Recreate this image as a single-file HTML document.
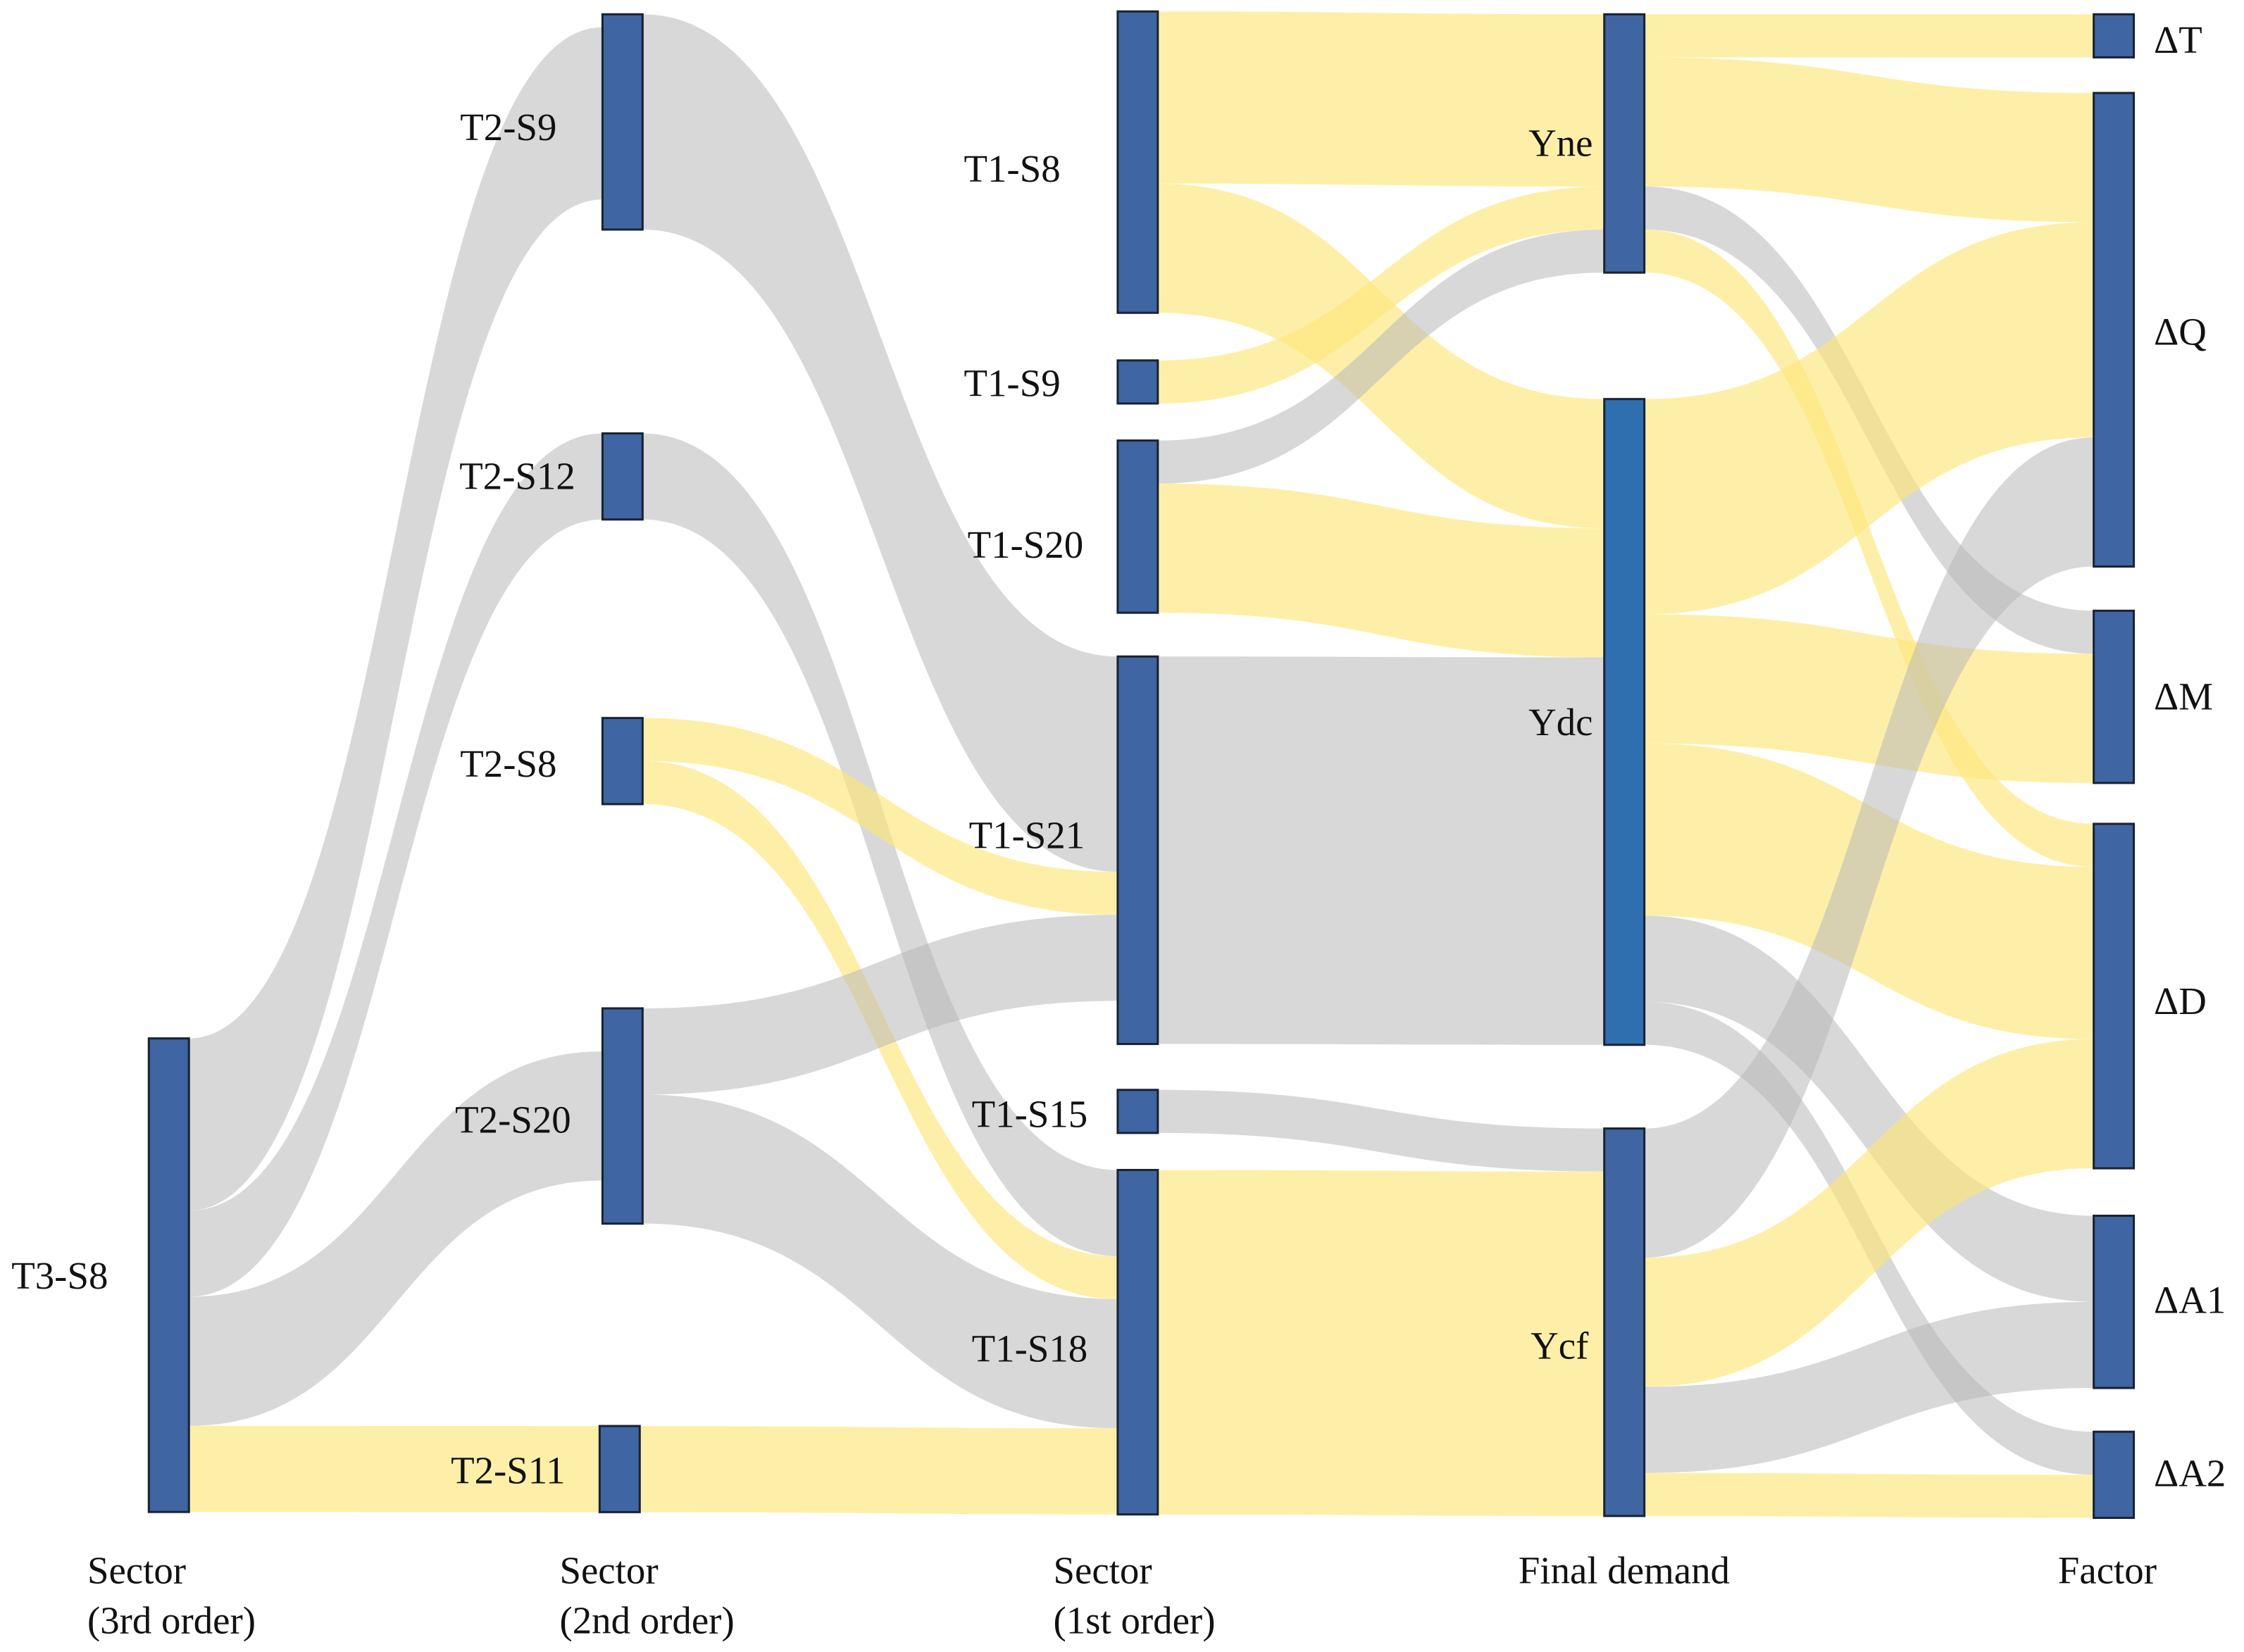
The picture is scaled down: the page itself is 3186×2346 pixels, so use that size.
<!DOCTYPE html>
<html><head><meta charset="utf-8">
<style>
html,body{margin:0;padding:0;background:#fff;}
svg{display:block;}
svg text{font-family:"Liberation Serif","DejaVu Serif","Noto Serif CJK SC",serif;font-size:27px;fill:#111;}
</style></head>
<body>
<svg id="chart" width="3186" height="2346" viewBox="0 0 1568 1155" preserveAspectRatio="none" xmlns="http://www.w3.org/2000/svg">
<g id="links"></g>
<g id="nodes"></g>
<g id="labels"></g>
</svg>
<script>
// ---- data ----
const nodeNames = ["T3-S8","T2-S9","T2-S12","T2-S8","T2-S20","T2-S11","T1-S8","T1-S9","T1-S20","T1-S21","T1-S15","T1-S18","Yne","Ydc","Ycf","ΔT","ΔQ","ΔM","ΔD","ΔA1","ΔA2"];
const nodeColumn = [0,1,1,1,1,1,2,2,2,2,2,2,3,3,3,4,4,4,4,4,4];
const linkSource = ["T3-S8","T3-S8","T3-S8","T3-S8","T2-S9","T2-S12","T2-S8","T2-S8","T2-S20","T2-S20","T2-S11","T1-S8","T1-S8","T1-S9","T1-S20","T1-S20","T1-S21","T1-S15","T1-S18","Yne","Yne","Yne","Yne","Ydc","Ydc","Ydc","Ydc","Ydc","Ycf","Ycf","Ycf","Ycf"];
const linkTarget = ["T2-S9","T2-S12","T2-S20","T2-S11","T1-S21","T1-S18","T1-S21","T1-S18","T1-S21","T1-S18","T1-S18","Yne","Ydc","Yne","Yne","Ydc","Ydc","Ycf","Ycf","ΔT","ΔQ","ΔM","ΔD","ΔQ","ΔM","ΔD","ΔA1","ΔA2","ΔQ","ΔD","ΔA1","ΔA2"];
const linkValue  = [4,2,3,2,5,2,1,1,2,3,2,4,3,1,1,3,9,1,8,1,3,1,1,5,3,4,2,1,3,3,2,1];
const linkKind   = ["g","g","g","y","g","g","y","y","g","g","y","y","y","y","g","y","g","g","y","y","y","g","y","y","y","y","g","g","g","y","g","y"];
const columnTitles = ["Sector|(3rd order)","Sector|(2nd order)","Sector|(1st order)","Final demand","Factor"];

// ---- layout ----
const unit = 30.1;
const colX = [104,421,781,1121,1463];
const nodeW = 28;
const nodeTop = {"T3-S8":726,"T2-S9":10,"T2-S12":303,"T2-S8":502,"T2-S20":705,"T2-S11":997,"T1-S8":8,"T1-S9":252,"T1-S20":308,"T1-S21":459,"T1-S15":762,"T1-S18":818,"Yne":10,"Ydc":279,"Ycf":789,"ΔT":10,"ΔQ":65,"ΔM":427,"ΔD":576,"ΔA1":850,"ΔA2":1001};
const inOffset = {"T2-S20":1,"T2-S9":0.3};
const NS="http://www.w3.org/2000/svg";
const inSum={},outSum={};
nodeNames.forEach(n=>{inSum[n]=0;outSum[n]=0;});
linkValue.forEach((v,i)=>{outSum[linkSource[i]]+=v;inSum[linkTarget[i]]+=v;});
const nodeX = n => colX[nodeColumn[nodeNames.indexOf(n)]] + (n==="T2-S11"?-2:0);
const outCur={},inCur={};
nodeNames.forEach(n=>{outCur[n]=nodeTop[n];inCur[n]=nodeTop[n]+(inOffset[n]||0)*unit;});
const gl=document.getElementById('links');
linkValue.forEach((v,i)=>{
  const s=linkSource[i],t=linkTarget[i],h=v*unit;
  const x0=nodeX(s)+nodeW,x1=nodeX(t),xm=(x0+x1)/2;
  const s0=outCur[s],s1=s0+h;outCur[s]=s1;
  const t0=inCur[t],t1=t0+h;inCur[t]=t1;
  const p=document.createElementNS(NS,'path');
  p.setAttribute('d',`M${x0},${s0} C${xm},${s0} ${xm},${t0} ${x1},${t0} L${x1},${t1} C${xm},${t1} ${xm},${s1} ${x0},${s1} Z`);
  p.setAttribute('fill',linkKind[i]==="y"?"#fde77a":"#b8b8b8");
  p.setAttribute('fill-opacity',linkKind[i]==="y"?"0.65":"0.55");
  
  
  gl.appendChild(p);
});
const gn=document.getElementById('nodes');
nodeNames.forEach(n=>{
  const r=document.createElementNS(NS,'rect');
  const h=Math.max(inSum[n],outSum[n])*unit;
  r.setAttribute('x',nodeX(n));r.setAttribute('y',nodeTop[n]);
  r.setAttribute('width',nodeW);r.setAttribute('height',h);
  r.setAttribute('fill',n==="Ydc"?"#2f6fb0":"#3f66a3");
  r.setAttribute('stroke','#1a2233');r.setAttribute('stroke-width','1.5');
  
  
  gn.appendChild(r);
});
// labels
const labelPos = {"T3-S8":[8,892,"start"],"T2-S9":[389,89,"end"],"T2-S12":[402,333,"end"],"T2-S8":[389,534,"end"],"T2-S20":[399,783,"end"],"T2-S11":[395,1028,"end"],
"T1-S8":[741,118,"end"],"T1-S9":[741,268,"end"],"T1-S20":[757,381,"end"],"T1-S21":[758,584,"end"],"T1-S15":[760,779,"end"],"T1-S18":[760,943,"end"],
"Yne":[1113,100,"end"],"Ydc":[1113,505,"end"],"Ycf":[1110,941,"end"],"ΔT":[1505,28,"start"],"ΔQ":[1505,232,"start"],"ΔM":[1505,487,"start"],"ΔD":[1505,700,"start"],"ΔA1":[1505,909,"start"],"ΔA2":[1505,1030,"start"]};
const glb=document.getElementById('labels');
nodeNames.forEach(n=>{
  const p=labelPos[n];
  const t=document.createElementNS(NS,'text');
  t.setAttribute('x',p[0]);t.setAttribute('y',p[1]+9);t.setAttribute('text-anchor',p[2]);
  t.textContent=n;
  
  
  glb.appendChild(t);
});
const titleX=[61,391,736,1061,1438];
columnTitles.forEach((c,i)=>{
  c.split('|').forEach((line,j)=>{
    const t=document.createElementNS(NS,'text');
    t.setAttribute('x',titleX[i]);t.setAttribute('y',1107+j*35);
    t.textContent=line;
    
    
    glb.appendChild(t);
  });
});
</script>
</body></html>
